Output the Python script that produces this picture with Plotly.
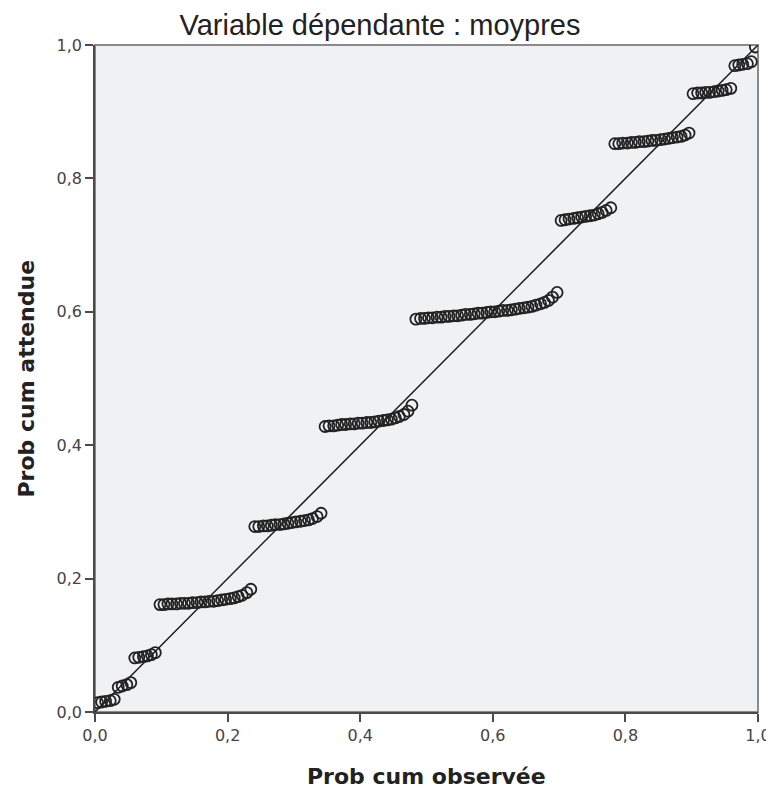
import plotly.graph_objects as go

# Observed cumulative probability (x) and expected cumulative probability (y), one entry per case
prob_observee = [
    0.004, 0.010, 0.016, 0.023, 0.029,
    0.035, 0.041, 0.048, 0.054,
    0.060, 0.066, 0.073, 0.079, 0.085, 0.091,
    0.098, 0.104, 0.110, 0.116, 0.123, 0.129, 0.135, 0.141, 0.147, 0.154, 0.160, 0.166,
    0.172, 0.179, 0.185, 0.191, 0.197, 0.204, 0.210, 0.216, 0.222, 0.229, 0.235,
    0.241, 0.247, 0.254, 0.260, 0.266, 0.272, 0.279, 0.285, 0.291, 0.297, 0.303, 0.310,
    0.316, 0.322, 0.328, 0.335, 0.341,
    0.347, 0.353, 0.360, 0.366, 0.372, 0.378, 0.385, 0.391, 0.397, 0.403, 0.410, 0.416,
    0.422, 0.428, 0.435, 0.441, 0.447, 0.453, 0.459, 0.466, 0.472, 0.478,
    0.484, 0.491, 0.497, 0.503, 0.509, 0.516, 0.522, 0.528, 0.534, 0.541, 0.547, 0.553,
    0.559, 0.566, 0.572, 0.578, 0.584, 0.591, 0.597, 0.603, 0.609, 0.615, 0.622, 0.628,
    0.634, 0.640, 0.647, 0.653, 0.659, 0.665, 0.672, 0.678, 0.684, 0.690, 0.697,
    0.703, 0.709, 0.715, 0.722, 0.728, 0.734, 0.740, 0.747, 0.753, 0.759, 0.765, 0.771, 0.778,
    0.784, 0.790, 0.796, 0.803, 0.809, 0.815, 0.821, 0.828, 0.834, 0.840, 0.846, 0.853,
    0.859, 0.865, 0.871, 0.878, 0.884, 0.890, 0.896,
    0.902, 0.909, 0.915, 0.921, 0.927, 0.934, 0.940, 0.946, 0.952, 0.959,
    0.965, 0.971, 0.977, 0.984, 0.990,
    0.996,
]

prob_attendue = [
    0.014, 0.015, 0.016, 0.017, 0.019,
    0.037, 0.039, 0.041, 0.044,
    0.081, 0.082, 0.083, 0.084, 0.086, 0.089,
    0.161, 0.161, 0.162, 0.162, 0.162, 0.163, 0.163, 0.163, 0.164, 0.164, 0.165, 0.165,
    0.166, 0.166, 0.167, 0.168, 0.169, 0.170, 0.171, 0.173, 0.175, 0.179, 0.184,
    0.278, 0.278, 0.279, 0.279, 0.280, 0.281, 0.281, 0.282, 0.283, 0.284, 0.285, 0.286,
    0.287, 0.288, 0.290, 0.293, 0.298,
    0.428, 0.429, 0.429, 0.430, 0.431, 0.431, 0.432, 0.432, 0.433, 0.433, 0.434, 0.434,
    0.435, 0.436, 0.437, 0.438, 0.439, 0.441, 0.443, 0.446, 0.451, 0.460,
    0.589, 0.590, 0.590, 0.591, 0.591, 0.592, 0.592, 0.593, 0.593, 0.594, 0.594, 0.595,
    0.596, 0.596, 0.597, 0.598, 0.598, 0.599, 0.600, 0.600, 0.601, 0.602, 0.602, 0.603,
    0.604, 0.605, 0.606, 0.607, 0.608, 0.610, 0.612, 0.614, 0.617, 0.622, 0.629,
    0.737, 0.738, 0.739, 0.740, 0.741, 0.742, 0.743, 0.744, 0.745, 0.747, 0.749, 0.752, 0.756,
    0.852, 0.852, 0.853, 0.853, 0.854, 0.854, 0.855, 0.855, 0.856, 0.857, 0.857, 0.858,
    0.859, 0.860, 0.861, 0.862, 0.863, 0.865, 0.868,
    0.927, 0.928, 0.928, 0.929, 0.929, 0.930, 0.931, 0.932, 0.933, 0.935,
    0.969, 0.970, 0.971, 0.972, 0.975,
    0.997,
]

ref_line = [0.0, 1.0]
tick_vals = [0.0, 0.2, 0.4, 0.6, 0.8, 1.0]
tick_text = ["0,0", "0,2", "0,4", "0,6", "0,8", "1,0"]

title_text = "Variable dépendante : moypres"
x_title = "Prob cum observée"
y_title = "Prob cum attendue"

# the page body adds an 8 px offset, so the figure is 8 px smaller on each axis
FIG_W, FIG_H = 766, 786

fig = go.Figure()
fig.add_trace(go.Scatter(
    x=ref_line, y=ref_line, mode="lines",
    line=dict(color="#1a1a1a", width=1.5),
    hoverinfo="skip", showlegend=False,
))
fig.add_trace(go.Scatter(
    x=prob_observee, y=prob_attendue, mode="markers",
    marker=dict(symbol="circle-open", size=11, color="#222222",
                line=dict(width=1.8, color="#222222")),
    showlegend=False,
))

axis_common = dict(
    range=[0, 1], tickmode="array", tickvals=tick_vals, ticktext=tick_text,
    showgrid=False, zeroline=False, showline=True, linecolor="#4a4a4a", linewidth=1.6,
    ticks="outside", ticklen=8, tickwidth=1.6, tickcolor="#4a4a4a",
    tickfont=dict(family="DejaVu Sans", size=16, color="#444444"),
    mirror=False, automargin=False,
)

fig.update_xaxes(**axis_common)
fig.update_yaxes(**axis_common)

fig.add_shape(type="rect", xref="paper", yref="paper", x0=0, y0=0, x1=1, y1=1,
              line=dict(color="#8a8a8a", width=2), layer="below")

fig.update_layout(
    width=FIG_W, height=FIG_H,
    margin=dict(l=87, r=16, t=37, b=82),
    paper_bgcolor="white", plot_bgcolor="#f0f1f3",
    title=dict(text=title_text, x=372 / FIG_W, xref="container", xanchor="center",
               y=1 - 17 / FIG_H, yref="container", yanchor="middle",
               font=dict(family="Liberation Sans", size=29, color="#222222")),
    annotations=[
        dict(text=x_title, xref="paper", yref="paper", x=0.5, y=0,
             xanchor="center", yanchor="middle", yshift=-64, showarrow=False,
             font=dict(family="DejaVu Sans", size=22, color="#222222", weight="bold")),
        dict(text=y_title, xref="paper", yref="paper", x=0, y=0.5, textangle=-90,
             xanchor="center", yanchor="middle", xshift=-69, showarrow=False,
             font=dict(family="DejaVu Sans", size=22, color="#222222", weight="bold")),
    ],
)

fig.write_html("out.html")
